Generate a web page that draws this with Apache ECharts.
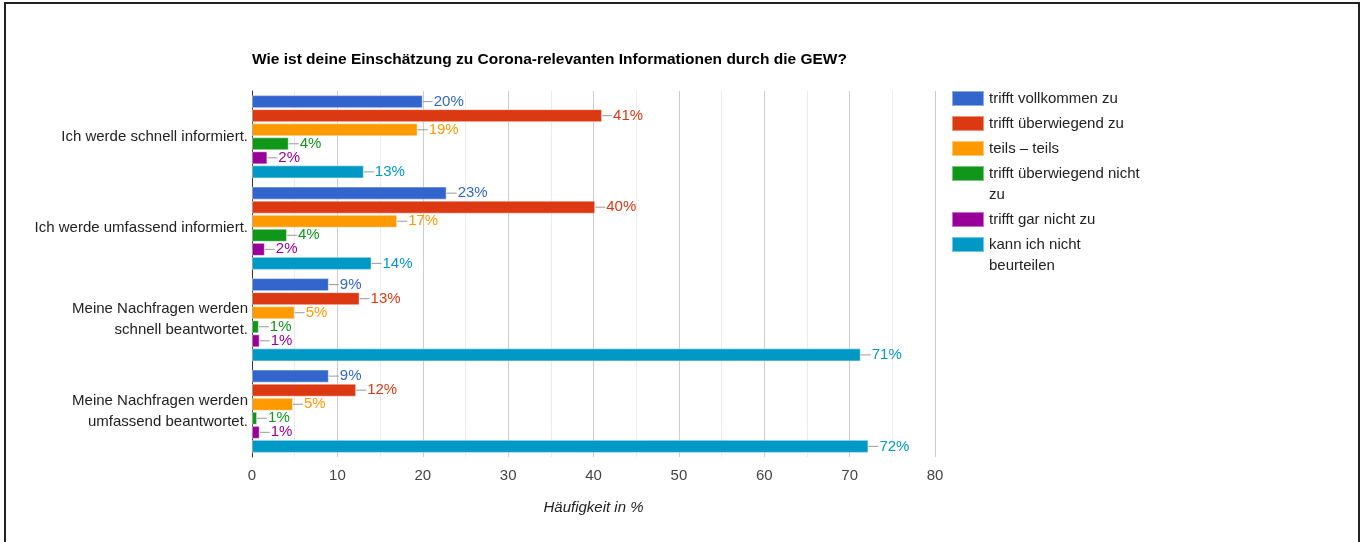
<!DOCTYPE html>
<html>
<head>
<meta charset="utf-8">
<script src="https://cdn.jsdelivr.net/npm/echarts@6/dist/echarts.min.js"></script>
<style>
  html, body { margin: 0; padding: 0; background: #fff; overflow: hidden; }
  #chart { width: 1363px; height: 542px; }
  .frame {
    position: absolute; left: 4px; top: 2px; width: 1356px; height: 700px;
    box-sizing: border-box; border: 2px solid #222; pointer-events: none;
  }
</style>
</head>
<body>
<div id="chart"></div>
<div class="frame"></div>
<script>
const categories = [
  'Ich werde schnell informiert.',
  'Ich werde umfassend informiert.',
  'Meine Nachfragen werden\nschnell beantwortet.',
  'Meine Nachfragen werden\numfassend beantwortet.'
]

const seriesNames = [
  'trifft vollkommen zu',
  'trifft überwiegend zu',
  'teils – teils',
  'trifft überwiegend nicht zu',
  'trifft gar nicht zu',
  'kann ich nicht beurteilen'
]

// Häufigkeit in % per category
const vollkommen = [20.0, 22.8, 9.0, 9.0]
const ueberwiegend = [41.0, 40.2, 12.6, 12.2]
const teils = [19.4, 17.0, 5.0, 4.8]
const ueberwiegendNicht = [4.3, 4.1, 0.8, 0.6]
const garNicht = [1.8, 1.5, 0.9, 0.9]
const kannNicht = [13.1, 14.0, 71.3, 72.2]

const seriesValues = [vollkommen, ueberwiegend, teils, ueberwiegendNicht, garNicht, kannNicht]

const xTicks = [0, 10, 20, 30, 40, 50, 60, 70, 80]

const COLORS = ['#3366cc', '#dc3912', '#ff9900', '#109618', '#990099', '#0099c6']
const FONT = 'Arial, "Liberation Sans", sans-serif'

// legend text, wrapped like the original legend column
const legendText = {
  'trifft überwiegend nicht zu': '\ntrifft überwiegend nicht\nzu',
  'kann ich nicht beurteilen': '\nkann ich nicht\nbeurteilen'
}
// top of the legend box for each entry
const legendTops = [88, 113, 138, 142, 209, 213]

const chart = echarts.init(document.getElementById('chart'))

const legends = seriesNames.map((name, i) => ({
  data: [name],
  orient: 'vertical',
  left: 951,
  top: legendTops[i],
  padding: 0,
  icon: 'rect',
  itemWidth: 32,
  itemHeight: 15,
  selectedMode: false,
  formatter: (n) => legendText[n] || n,
  textStyle: { color: '#222', fontSize: 15, fontFamily: FONT, lineHeight: 21 }
}))

const series = seriesNames.map((name, i) => ({
  name,
  type: 'bar',
  data: seriesValues[i],
  barGap: '8%',
  barCategoryGap: '9%',
  itemStyle: { color: COLORS[i], borderColor: 'rgba(255,255,255,0.45)', borderWidth: 1 },
  label: {
    show: true,
    position: 'right',
    distance: 0,
    formatter: (p) => '{l|}{v|' + Math.round(p.value) + '%}',
    rich: {
      l: { width: 10, height: 1, backgroundColor: '#999', verticalAlign: 'middle' },
      v: { color: COLORS[i], fontSize: 15, fontFamily: FONT, padding: [0, 0, 0, 1] }
    }
  },
  emphasis: { disabled: true }
}))

chart.setOption({
  backgroundColor: '#fff',
  animation: false,
  title: {
    text: 'Wie ist deine Einschätzung zu Corona-relevanten Informationen durch die GEW?',
    left: 247,
    top: 47,
    textStyle: { color: '#000', fontSize: 15.5, fontWeight: 'bold', fontFamily: FONT }
  },
  legend: legends,
  grid: { left: 252, right: 428, top: 91, bottom: 85 },
  xAxis: {
    type: 'value',
    min: xTicks[0],
    max: xTicks[xTicks.length - 1],
    interval: 10,
    minorTick: { show: false, splitNumber: 2 },
    minorSplitLine: { show: true, lineStyle: { color: '#ebebeb' } },
    splitLine: { show: true, lineStyle: { color: '#cccccc' } },
    axisLine: { show: false },
    axisTick: { show: false },
    axisLabel: { color: '#444', fontSize: 15, fontFamily: FONT, margin: 11 },
    name: 'Häufigkeit in %',
    nameLocation: 'middle',
    nameGap: 43,
    nameTextStyle: { color: '#222', fontSize: 15, fontStyle: 'italic', fontFamily: FONT }
  },
  yAxis: {
    type: 'category',
    inverse: true,
    data: categories,
    axisLine: { show: true, onZero: false, lineStyle: { color: '#333' } },
    axisTick: { show: false },
    axisLabel: { color: '#222', fontSize: 15, fontFamily: FONT, margin: 4, lineHeight: 21 }
  },
  series
})
</script>
</body>
</html>
